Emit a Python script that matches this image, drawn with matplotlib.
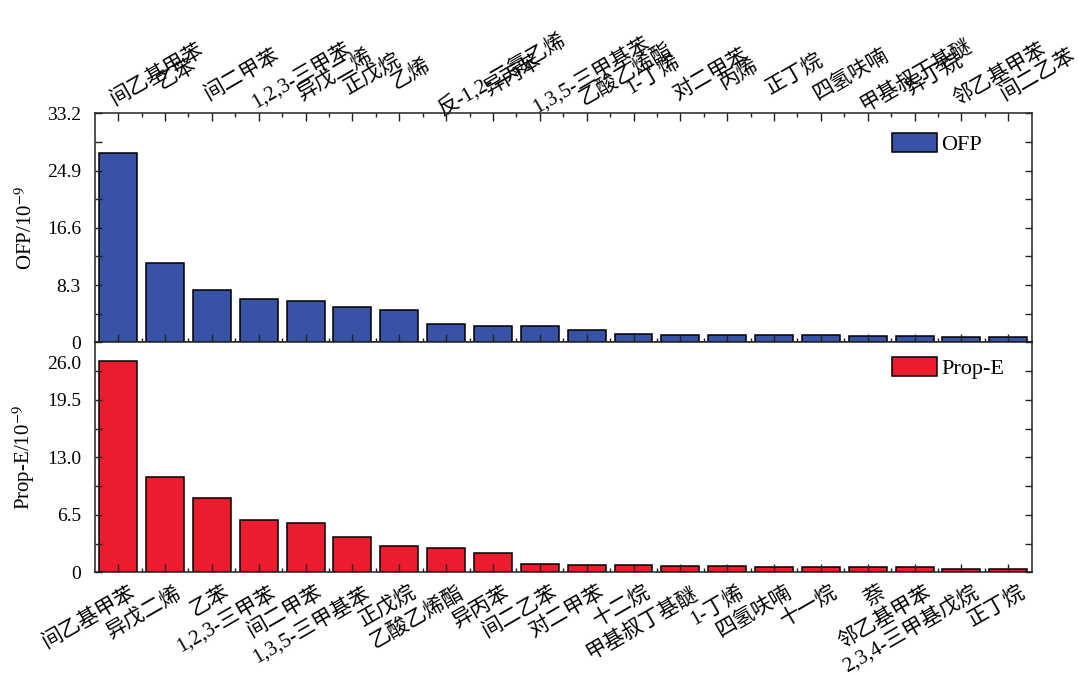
import matplotlib
matplotlib.use('Agg')
import matplotlib.pyplot as plt
from matplotlib.transforms import ScaledTranslation
from matplotlib.ticker import FixedLocator, MultipleLocator
import numpy as np

plt.rcParams['font.family'] = ['Liberation Serif', 'Noto Sans CJK SC']
plt.rcParams['mathtext.fontset'] = 'stix'

# ---- data ----
ofp_species = ['间乙基甲苯', '乙苯', '间二甲苯', '1,2,3-三甲苯', '异戊二烯', '正戊烷', '乙烯',
               '反-1,2-二氯乙烯', '异丙苯', '1,3,5-三甲基苯', '乙酸乙烯酯', '1-丁烯', '对二甲苯',
               '丙烯', '正丁烷', '四氢呋喃', '甲基叔丁基醚', '异丁烷', '邻乙基甲苯', '间二乙苯']
ofp_values = [27.4, 11.45, 7.64, 6.28, 5.94, 5.12, 4.74, 2.71, 2.42, 2.32,
              1.79, 1.26, 1.11, 1.11, 1.06, 1.01, 0.87, 0.87, 0.77, 0.72]

prop_species = ['间乙基甲苯', '异戊二烯', '乙苯', '1,2,3-三甲苯', '间二甲苯', '1,3,5-三甲基苯',
                '正戊烷', '乙酸乙烯酯', '异丙苯', '间二乙苯', '对二甲苯', '十二烷', '甲基叔丁基醚',
                '1-丁烯', '四氢呋喃', '十一烷', '萘', '邻乙基甲苯', '2,3,4-三甲基戊烷', '正丁烷']
prop_values = [23.89, 10.74, 8.44, 5.95, 5.58, 3.99, 2.94, 2.75, 2.15, 0.98,
               0.88, 0.83, 0.72, 0.68, 0.64, 0.64, 0.60, 0.60, 0.38, 0.34]

ofp_yticks = [0, 8.3, 16.6, 24.9, 33.2]
ofp_yticklabels = ['0', '8.3', '16.6', '24.9', '33.2']
prop_yticks = [0, 6.5, 13.0, 19.5, 26.0]
prop_yticklabels = ['0', '6.5', '13.0', '19.5', '26.0']

blue = '#3853A6'
red = '#EC1C2E'
FS_TICK = 14
FS_CAT = 15
FS_LAB = 15
FS_LEG = 16

fig = plt.figure(figsize=(10.79, 6.76), dpi=100)
ax1 = fig.add_axes([0.0878, 0.4936, 0.8684, 0.3388])
ax2 = fig.add_axes([0.0878, 0.1534, 0.8684, 0.3402])

x = np.arange(len(ofp_species))
ax1.bar(x, ofp_values, width=0.81, color=blue, edgecolor='black', linewidth=1.1, label='OFP')
ax2.bar(x, prop_values, width=0.81, color=red, edgecolor='black', linewidth=1.1, label='Prop-E')

for ax in (ax1, ax2):
    ax.set_xlim(-0.5, len(x) - 0.5)
    ax.xaxis.set_minor_locator(FixedLocator(np.arange(0.5, len(x) - 1, 1.0)))
    for s in ax.spines.values():
        s.set_linewidth(1.1)
        s.set_color('#222222')

ax1.set_ylim(0, 33.2)
ax2.set_ylim(0, 26.0)
ax1.set_yticks(ofp_yticks, labels=ofp_yticklabels, fontsize=FS_TICK)
ax2.set_yticks(prop_yticks, labels=prop_yticklabels, fontsize=FS_TICK)
ax1.yaxis.set_minor_locator(MultipleLocator(4.15))
ax2.yaxis.set_minor_locator(MultipleLocator(3.25))

# x tick labels
ax1.set_xticks(x, labels=ofp_species, fontsize=FS_CAT, rotation=30, ha='left', va='center',
               rotation_mode='default', fontweight='light')
ax2.set_xticks(x, labels=prop_species, fontsize=FS_CAT, rotation=30, ha='right', va='center',
               rotation_mode='anchor', fontweight='light')

ax1.tick_params(axis='x', which='both', direction='in', top=True, bottom=True,
                labeltop=True, labelbottom=False, colors='#222222', labelcolor='black')
ax1.tick_params(axis='x', which='major', length=6, width=1.0, pad=27.5)
ax1.tick_params(axis='x', which='minor', length=3, width=1.0)
ax2.tick_params(axis='x', which='both', direction='in', top=False, bottom=True,
                colors='#222222', labelcolor='black')
ax2.tick_params(axis='x', which='major', length=6, width=1.0, pad=14)
ax2.tick_params(axis='x', which='minor', length=3, width=1.0)
for ax in (ax1, ax2):
    ax.tick_params(axis='y', which='both', direction='in', left=True, right=True,
                   colors='#222222', labelcolor='black')
    ax.tick_params(axis='y', which='major', length=5, width=1.0, pad=10)
    ax.tick_params(axis='y', which='minor', length=5, width=1.0)

ax1.set_ylabel('OFP/10$^{-9}$', fontsize=FS_LAB)
ax2.set_ylabel('Prop-E/10$^{-9}$', fontsize=FS_LAB)
ax1.yaxis.set_label_coords(-0.062, 0.5)
ax2.yaxis.set_label_coords(-0.062, 0.5)

for ax, anchor in ((ax1, (0.851, 0.915)), (ax2, (0.851, 0.935))):
    ax.legend(loc='upper left', bbox_to_anchor=anchor, frameon=False, fontsize=FS_LEG,
              handlelength=2.0, handleheight=0.95, handletextpad=0.2,
              borderpad=0, borderaxespad=0)

# label offsets (applied after all tick_params)
for t in ax1.xaxis.get_major_ticks():
    t.label2.set_transform(t.label2.get_transform() +
                           ScaledTranslation(-0.11, 0, fig.dpi_scale_trans))
for t in ax2.xaxis.get_major_ticks():
    t.label1.set_transform(t.label1.get_transform() +
                           ScaledTranslation(0.16, 0, fig.dpi_scale_trans))
top_tick = ax2.yaxis.get_major_ticks()[-1]
top_tick.label1.set_transform(top_tick.label1.get_transform() +
                              ScaledTranslation(0, -0.20, fig.dpi_scale_trans))

fig.savefig('out.png', dpi=100, facecolor='white')
